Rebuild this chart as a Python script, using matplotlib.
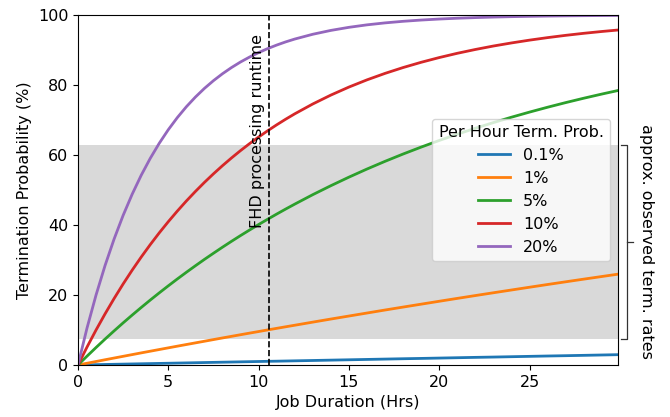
import matplotlib
matplotlib.use("Agg")
import matplotlib.pyplot as plt
import matplotlib.transforms as mtransforms

hours = [0, 0.5, 1, 1.5, 2, 2.5, 3, 3.5, 4, 4.5, 5, 5.5, 6, 6.5, 7, 7.5, 8, 8.5,
         9, 9.5, 10, 10.5, 11, 11.5, 12, 13, 14, 15, 16, 17, 18, 19, 20, 21, 22,
         23, 24, 25, 26, 27, 28, 29, 30]
labels = ["0.1%", "1%", "5%", "10%", "20%"]

p_01 = [0, 0.05, 0.10, 0.15, 0.20, 0.25, 0.30, 0.35, 0.40, 0.45, 0.50, 0.55, 0.60,
        0.65, 0.70, 0.75, 0.80, 0.85, 0.90, 0.95, 1.00, 1.05, 1.09, 1.14, 1.19,
        1.29, 1.39, 1.49, 1.59, 1.69, 1.79, 1.88, 1.98, 2.08, 2.18, 2.27, 2.37,
        2.47, 2.57, 2.66, 2.76, 2.86, 2.96]
p_1 = [0, 0.50, 1.00, 1.50, 1.99, 2.48, 2.97, 3.46, 3.94, 4.42, 4.90, 5.38, 5.85,
       6.32, 6.79, 7.26, 7.73, 8.19, 8.65, 9.11, 9.56, 10.02, 10.47, 10.92, 11.36,
       12.25, 13.13, 13.99, 14.85, 15.71, 16.55, 17.38, 18.21, 19.03, 19.84, 20.64,
       21.43, 22.22, 23.00, 23.77, 24.53, 25.28, 26.03]
p_5 = [0, 2.53, 5.00, 7.41, 9.75, 12.04, 14.26, 16.43, 18.55, 20.61, 22.62, 24.58,
       26.49, 28.35, 30.17, 31.93, 33.66, 35.34, 36.98, 38.57, 40.13, 41.64, 43.12,
       44.56, 45.96, 48.67, 51.23, 53.67, 55.99, 58.19, 60.28, 62.26, 64.15, 65.94,
       67.65, 69.26, 70.80, 72.26, 73.65, 74.97, 76.22, 77.41, 78.54]
p_10 = [0, 5.13, 10.00, 14.62, 19.00, 23.16, 27.10, 30.84, 34.39, 37.76, 40.95,
        43.98, 46.86, 49.58, 52.17, 54.62, 56.95, 59.16, 61.26, 63.25, 65.13, 66.92,
        68.62, 70.23, 71.76, 74.58, 77.12, 79.41, 81.47, 83.32, 84.99, 86.49, 87.84,
        89.06, 90.15, 91.14, 92.02, 92.82, 93.54, 94.19, 94.77, 95.29, 95.76]
p_20 = [0, 10.56, 20.00, 28.45, 36.00, 42.76, 48.80, 54.21, 59.04, 63.36, 67.23,
        70.69, 73.79, 76.55, 79.03, 81.24, 83.22, 84.99, 86.58, 87.99, 89.26, 90.40,
        91.41, 92.32, 93.13, 94.50, 95.60, 96.48, 97.19, 97.75, 98.20, 98.56, 98.85,
        99.08, 99.26, 99.41, 99.53, 99.62, 99.70, 99.76, 99.81, 99.85, 99.88]
series = [p_01, p_1, p_5, p_10, p_20]

band_low, band_high = 7.4, 63.0
fhd_runtime = 10.55

FS = 11.5

fig = plt.figure(figsize=(6.7, 4.17), dpi=100)
ax = fig.add_axes([0.1164, 0.1247, 0.806, 0.8393])

ax.axhspan(band_low, band_high, color="0.85", lw=0, zorder=0)
for vals, lab in zip(series, labels):
    ax.plot(hours, vals, lw=2, label=lab, zorder=2)

ax.axvline(fhd_runtime, color="k", ls="--", lw=1.2, zorder=3)
ax.text(fhd_runtime - 0.2, 67, "FHD processing runtime", rotation=90,
        ha="right", va="center", fontsize=FS)

ax.set_xlim(0, 29.9)
ax.set_ylim(0, 100)
ax.set_xticks([0, 5, 10, 15, 20, 25])
ax.set_xlabel("Job Duration (Hrs)", fontsize=FS)
ax.set_ylabel("Termination Probability (%)", fontsize=FS)
ax.tick_params(labelsize=FS)

leg = ax.legend(title="Per Hour Term. Prob.", loc="center right", fontsize=FS,
                title_fontsize=FS)

# bracket outside the axes
tr = mtransforms.blended_transform_factory(ax.transAxes, ax.transData)
xv, xl, xr = 1.017, 1.006, 1.027
mid = (band_low + band_high) / 2
kw = dict(transform=tr, clip_on=False, color="0.2", lw=0.9)
ax.plot([xl, xv, xv, xl], [band_high, band_high, band_low, band_low], **kw)
ax.plot([xv, xr], [mid, mid], **kw)
ax.text(1.052, mid, "approx. observed term. rates", rotation=270,
        ha="center", va="center", transform=tr, fontsize=FS)

fig.savefig("out.png", dpi=100)
